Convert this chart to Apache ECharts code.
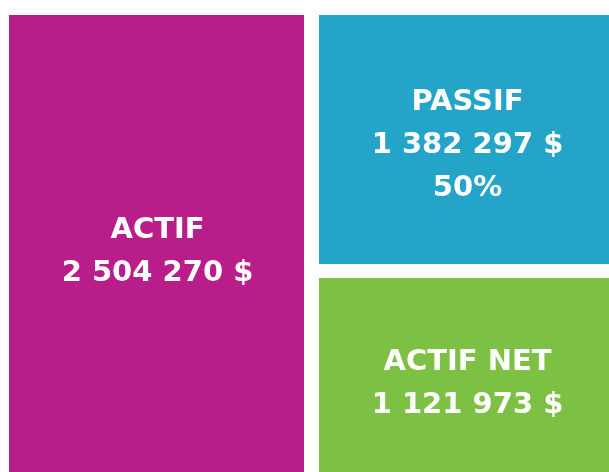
<!DOCTYPE html>
<html><head><meta charset="utf-8">
<script src="https://cdn.jsdelivr.net/npm/echarts@6/dist/echarts.min.js"></script>
<style>html,body{margin:0;padding:0;background:#fff}#c{width:609px;height:472px}</style>
</head><body><div id="c"></div>
<script>
const categories = ['ACTIF', 'PASSIF', 'ACTIF NET'];
const values = [2504270, 1382297, 1121973];
const valueLabels = ['2 504 270 $', '1 382 297 $', '1 121 973 $'];
const extraLabels = ['', '50%', ''];
const colors = ['#B91D8A', '#23A4C8', '#7DC144'];

function leaf(i) {
  const lines = [categories[i], valueLabels[i]];
  if (extraLabels[i]) lines.push(extraLabels[i]);
  return { name: categories[i], value: values[i], itemStyle: { color: colors[i] }, labelText: lines.join('\n') };
}
const data = [
  leaf(0),
  { name: '', children: [leaf(1), leaf(2)] }
];

const chart = echarts.init(document.getElementById('c'));
chart.setOption({
  animation: false,
  backgroundColor: '#ffffff',
  series: [{
    type: 'treemap',
    left: 9, top: 15, width: 605, height: 462.5,
    sort: false,
    squareRatio: 1,
    roam: false,
    nodeClick: false,
    breadcrumb: { show: false },
    silent: true,
    levels: [
      { itemStyle: { borderWidth: 0, gapWidth: 15 } },
      { itemStyle: { borderWidth: 0, gapWidth: 14 } },
      { itemStyle: { borderWidth: 0, gapWidth: 0 } }
    ],
    label: {
      show: true,
      position: 'inside',
      offset: [1, 6],
      color: '#fff',
      fontFamily: 'DejaVu Sans',
      fontWeight: 'bold',
      fontSize: 29,
      lineHeight: 43,
      align: 'center',
      verticalAlign: 'middle',
      formatter: p => p.data.labelText || ''
    },
    data: data
  }]
});
</script></body></html>
